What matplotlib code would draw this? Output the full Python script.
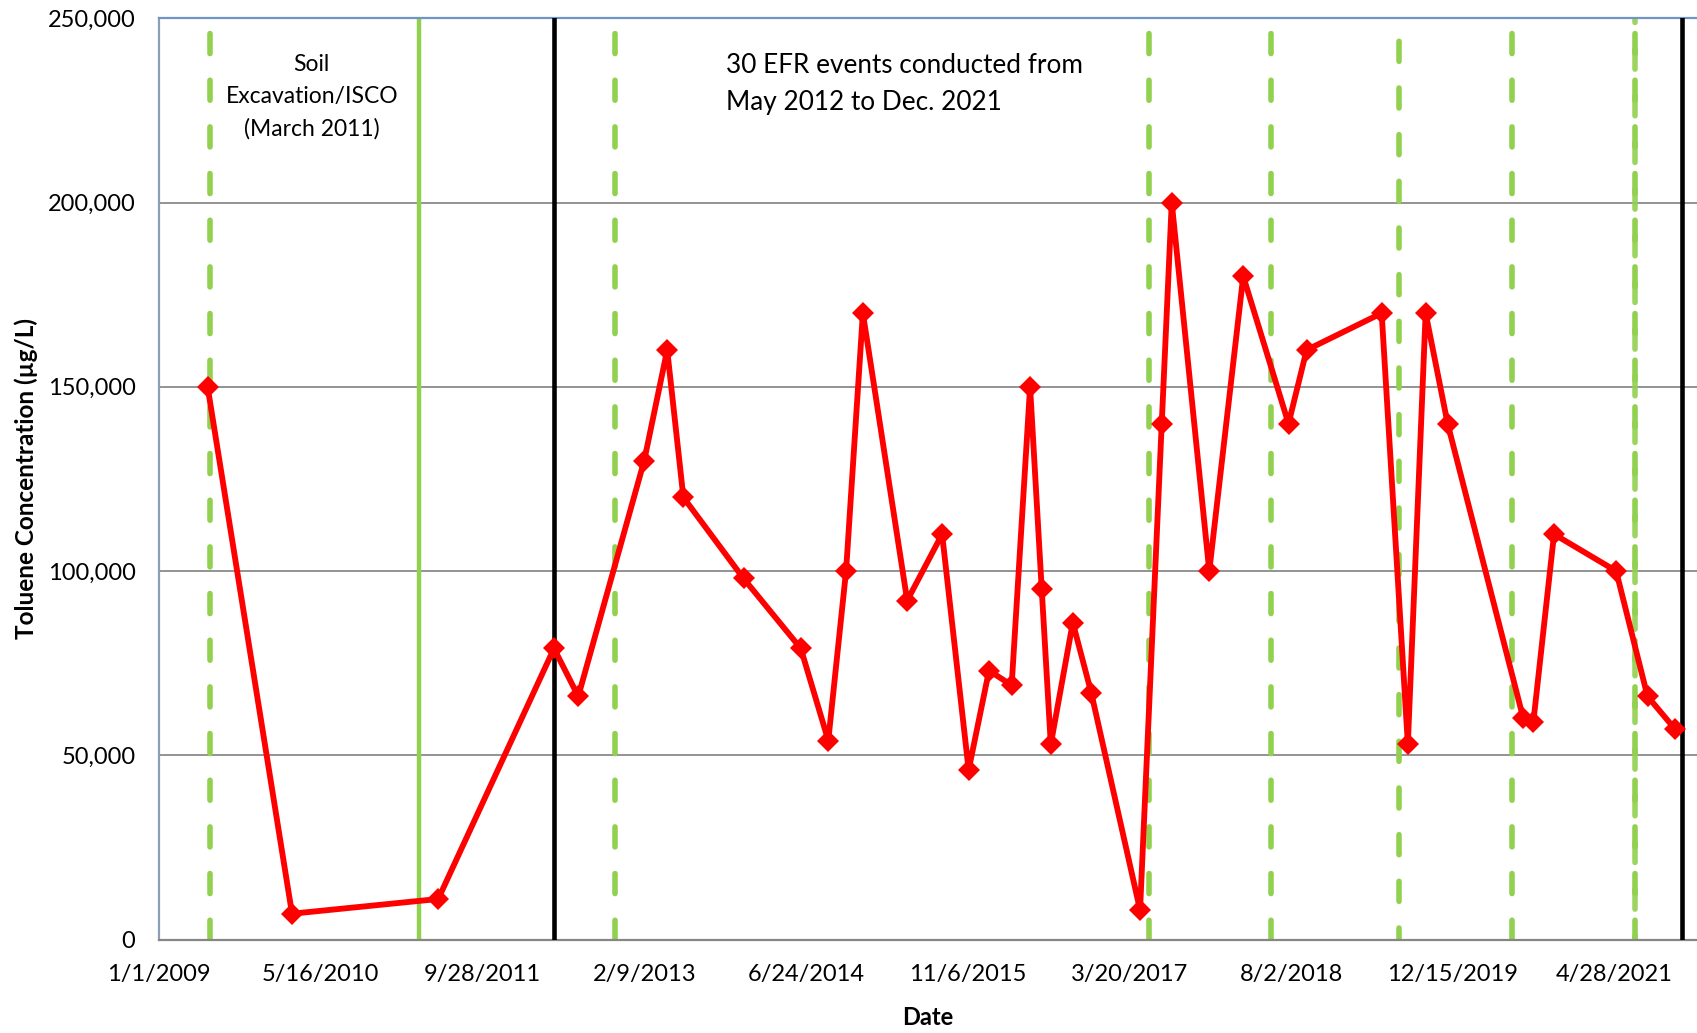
import datetime as dt
import matplotlib
matplotlib.use("Agg")
import matplotlib.pyplot as plt
import matplotlib.dates as mdates
from matplotlib.ticker import FixedLocator, FuncFormatter

# ---------------- data ----------------
sample_dates = ['2009-05-31', '2010-02-16', '2011-05-14', '2012-05-06', '2012-07-20',
                '2013-02-09', '2013-04-21', '2013-06-10', '2013-12-13', '2014-06-08',
                '2014-09-01', '2014-10-26', '2014-12-17', '2015-05-03', '2015-08-19',
                '2015-11-09', '2016-01-11', '2016-03-21', '2016-05-17', '2016-06-22',
                '2016-07-20', '2016-09-26', '2016-11-22', '2017-04-22', '2017-06-28',
                '2017-07-29', '2017-11-22', '2018-03-07', '2018-07-25', '2018-09-19',
                '2019-05-09', '2019-07-29', '2019-09-22', '2019-11-29', '2020-07-20',
                '2020-08-20', '2020-10-23', '2021-05-03', '2021-08-08', '2021-11-02']
toluene = [150000, 7000, 11000, 79000, 66000, 130000, 160000, 120000, 98000, 79000,
           54000, 100000, 170000, 92000, 110000, 46000, 73000, 69000, 150000, 95000,
           53000, 86000, 67000, 8000, 140000, 200000, 100000, 180000, 140000, 160000,
           170000, 53000, 170000, 140000, 60000, 59000, 110000, 100000, 66000, 57000]

efr_event_dates = ['2009-06-07', '2012-11-10', '2017-05-20', '2018-06-01',
                   '2019-07-02', '2020-06-15', '2021-06-30']
excavation_date = '2011-03-17'
efr_period = ['2012-05-06', '2021-11-23']

x_tick_labels = ['1/1/2009', '5/16/2010', '9/28/2011', '2/9/2013', '6/24/2014',
                 '11/6/2015', '3/20/2017', '8/2/2018', '12/15/2019', '4/28/2021']
y_ticks = [0, 50000, 100000, 150000, 200000, 250000]

x_start = '2009-01-01'
x_end = '2022-01-08'

excavation_text = "Soil\nExcavation/ISCO\n(March 2011)"
efr_text = "30 EFR events conducted from\nMay 2012 to Dec. 2021"

# ---------------- plot ----------------
def d(s):
    return mdates.date2num(dt.datetime.strptime(s, "%Y-%m-%d"))

plt.rcParams['font.family'] = ['Lato', 'DejaVu Sans']

fig = plt.figure(figsize=(16.97, 10.33), dpi=100)
ax = fig.add_axes([159.1 / 1697, 1 - 939.5 / 1033, 1 - 159.1 / 1697, (939.5 - 18.4) / 1033])

ax.set_xlim(d(x_start), d(x_end))
ax.set_ylim(0, 250000)

# gridlines
for v in y_ticks[1:-1]:
    ax.axhline(v, color='#8a8a8a', lw=1.3, zorder=1)

green = '#92D050'
glw = 4.0
for i, ed in enumerate(efr_event_dates):
    off = 5.6 if i != 4 else 4.2
    ax.plot([d(ed), d(ed)], [250000, 0], color=green, lw=glw,
            linestyle=(off, (3.6, 4.8)), dash_capstyle='round', zorder=2)
# doubled line near the last event
ax.plot([d(efr_event_dates[-1]), d(efr_event_dates[-1])], [250000, 0], color=green, lw=glw,
        linestyle=(2.8, (3.6, 4.8)), dash_capstyle='round', zorder=2, alpha=0.9)

ax.axvline(d(excavation_date), color=green, lw=3.2, zorder=2)
for bd in efr_period:
    ax.axvline(d(bd), color='black', lw=3.3, zorder=3)

xs = [d(s) for s in sample_dates]
ax.plot(xs, toluene, color='#FF0000', lw=4.2, marker='D', markersize=11.5,
        markeredgewidth=0, zorder=4, clip_on=False)

# ticks
base = dt.datetime.strptime(x_start, "%Y-%m-%d")
tick_pos = [mdates.date2num(base + dt.timedelta(days=500 * i)) for i in range(len(x_tick_labels))]
ax.xaxis.set_major_locator(FixedLocator(tick_pos))
ax.set_xticklabels(x_tick_labels)
ax.yaxis.set_major_locator(FixedLocator(y_ticks))
ax.yaxis.set_major_formatter(FuncFormatter(lambda v, p: f"{int(v):,}"))
ax.tick_params(axis='both', length=0, labelsize=17, colors='black')
ax.tick_params(axis='x', pad=18)
ax.tick_params(axis='y', pad=17)

ax.spines['right'].set_visible(False)
ax.spines['top'].set_color('#6f95c8')
ax.spines['top'].set_linewidth(1.6)
ax.spines['left'].set_color('#8c9db5')
ax.spines['left'].set_linewidth(1.6)
ax.spines['bottom'].set_color('#868686')
ax.spines['bottom'].set_linewidth(1.6)

ax.set_xlabel('Date', fontsize=17, fontweight='bold', labelpad=15)
ax.set_ylabel('Toluene Concentration (µg/L)', fontsize=17.5, fontweight='bold', labelpad=7)

ax.text(311.7 / 1697, 1 - 96.5 / 1033, excavation_text, transform=fig.transFigure,
        ha='center', va='center', fontsize=16.5, linespacing=1.65)
ax.text(726 / 1697, 1 - 84 / 1033, efr_text, transform=fig.transFigure,
        ha='left', va='center', fontsize=18.8, linespacing=1.6)

fig.savefig('out.png', dpi=100)
